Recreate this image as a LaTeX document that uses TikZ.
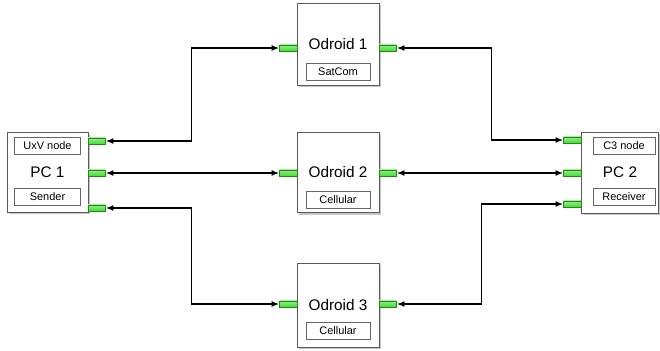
\documentclass[tikz,border=0pt]{standalone}
\usepackage{fontspec}
\setmainfont{Liberation Sans}
\usetikzlibrary{positioning,shadows,arrows.meta}

\definecolor{portgreen}{RGB}{62,222,44}

\begin{document}
\begin{tikzpicture}[x=0.025cm, y=-0.025cm,
    box/.style={draw=black!65, fill=white, line width=0.5pt, font=\fontsize{10.9}{12}\selectfont,
        drop shadow={opacity=0.45, shadow xshift=1.2pt, shadow yshift=-1.5pt}},
    tag/.style={draw=black!60, fill=white, line width=0.4pt, inner sep=0pt,
        minimum height=0.43cm, font=\fontsize{7.8}{9}\selectfont},
    port/.style={draw=portgreen!60!black, line width=0.3pt, top color=portgreen!55!white,
        bottom color=portgreen, inner sep=0pt, minimum width=0.43cm, minimum height=0.16cm},
    link/.style={line width=1.1pt, {Latex[length=5.5pt,width=4.2pt]}-{Latex[length=5.5pt,width=4.2pt]}}]
    \useasboundingbox (0,0) rectangle (660,350);

    % boxes
    \node[box, minimum width=2.03cm, minimum height=2cm] (pc1) at (47.5,172) {PC 1};
    \node[box, minimum width=1.93cm, minimum height=2.03cm] (pc2) at (620,172.5) {PC 2};
    \node[box, minimum width=2.05cm, minimum height=2.05cm] (od1) at (338,44) {Odroid 1};
    \node[box, minimum width=2.05cm, minimum height=2cm] (od2) at (338,172.5) {Odroid 2};
    \node[box, minimum width=2.05cm, minimum height=2.1cm] (od3) at (338,305) {Odroid 3};

    % tags inside the boxes
    \node[tag, minimum width=1.65cm, below=0.13cm of pc1.north] (uxv) {UxV node};
    \node[tag, minimum width=1.65cm, above=0.17cm of pc1.south] (sender) {Sender};
    \node[tag, minimum width=1.56cm, below=0.13cm of pc2.north, xshift=0.1cm] (c3) {C3 node};
    \node[tag, minimum width=1.56cm, above=0.2cm of pc2.south, xshift=0.1cm] (receiver) {Receiver};
    \node[tag, minimum width=1.6cm, above=0.12cm of od1.south] (satcom) {SatCom};
    \node[tag, minimum width=1.6cm, above=0.1cm of od2.south] (cell2) {Cellular};
    \node[tag, minimum width=1.6cm, above=0.2cm of od3.south] (cell3) {Cellular};

    % ports
    \node[port, anchor=west] (pc1a) at (88,141) {};
    \node[port, anchor=west] (pc1b) at (88,173) {};
    \node[port, anchor=west] (pc1c) at (88,208) {};
    \node[port, anchor=east] (pc2a) at (581,140) {};
    \node[port, anchor=east] (pc2b) at (581,173) {};
    \node[port, anchor=east] (pc2c) at (581,204) {};
    \node[port, anchor=east] (od1l) at (297,48) {};
    \node[port, anchor=west] (od1r) at (379,48) {};
    \node[port, anchor=east] (od2l) at (297,173) {};
    \node[port, anchor=west] (od2r) at (379,173) {};
    \node[port, anchor=east] (od3l) at (297,304) {};
    \node[port, anchor=west] (od3r) at (379,304) {};

    % links
    \draw[link] (pc1a.east) -- ++(86,0) |- (od1l.west);
    \draw[link] (pc1b.east) -- (od2l.west);
    \draw[link] (pc1c.east) -- ++(86,0) |- (od3l.west);
    \draw[link] (od1r.east) -- ++(95,0) |- (pc2a.west);
    \draw[link] (od2r.east) -- (pc2b.west);
    \draw[link] (od3r.east) -- ++(85,0) |- (pc2c.west);
\end{tikzpicture}
\end{document}
